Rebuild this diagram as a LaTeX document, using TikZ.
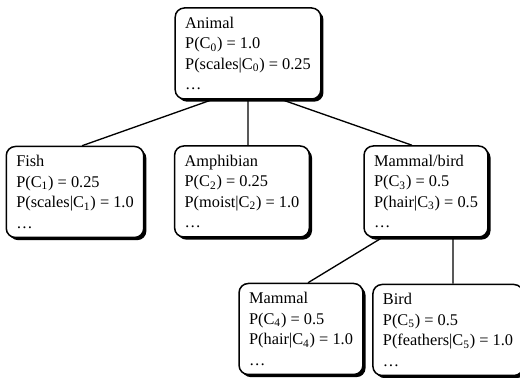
\documentclass[tikz,border=0pt]{standalone}
\usepackage{fontspec}
\setmainfont{Liberation Serif}
\usetikzlibrary{shadows}

\begin{document}
\begin{tikzpicture}[x=0.6pt,y=-0.6pt,
    cls/.style={draw,line width=0.9pt,rounded corners=5.5pt,fill=white,align=left,
      inner xsep=6pt,minimum height=54.6pt,font=\fontsize{9.8}{12.3}\selectfont,
      drop shadow={shadow xshift=1.6pt,shadow yshift=-1.6pt,fill=black,opacity=1}},
    link/.style={line width=0.8pt}]
    \useasboundingbox (0,0) rectangle (520,378);
    % Place nodes
    \node [cls] (animal) at (248,53.5) {Animal\\P(C\textsubscript{0}) = 1.0\\P(scales|C\textsubscript{0}) = 0.25\\\dots};
    \node [cls] (fish) at (75,192) {Fish\\P(C\textsubscript{1}) = 0.25\\P(scales|C\textsubscript{1}) = 1.0\\\dots};
    \node [cls] (amph) at (242,191.5) {Amphibian\\P(C\textsubscript{2}) = 0.25\\P(moist|C\textsubscript{2}) = 1.0\\\dots};
    \node [cls] (mb) at (426,191.5) {Mammal/bird\\P(C\textsubscript{3}) = 0.5\\P(hair|C\textsubscript{3}) = 0.5\\\dots};
    \node [cls] (mammal) at (301,329) {Mammal\\P(C\textsubscript{4}) = 0.5\\P(hair|C\textsubscript{4}) = 1.0\\\dots};
    \node [cls] (bird) at (448,330) {Bird\\P(C\textsubscript{5}) = 0.5\\P(feathers|C\textsubscript{5}) = 1.0\\\dots};

    % Links
    \draw [link] ([xshift=-21.6pt]animal.south) -- ([xshift=4.2pt]fish.north);
    \draw [link] (animal.south) -- ([xshift=3.6pt]amph.north);
    \draw [link] ([xshift=20.4pt]animal.south) -- ([xshift=-8.4pt]mb.north);
    \draw [link] ([xshift=-26.4pt]mb.south) -- ([xshift=4.2pt]mammal.north);
    \draw [link] ([xshift=16.2pt]mb.south) -- ([xshift=3pt]bird.north);
\end{tikzpicture}
\end{document}
